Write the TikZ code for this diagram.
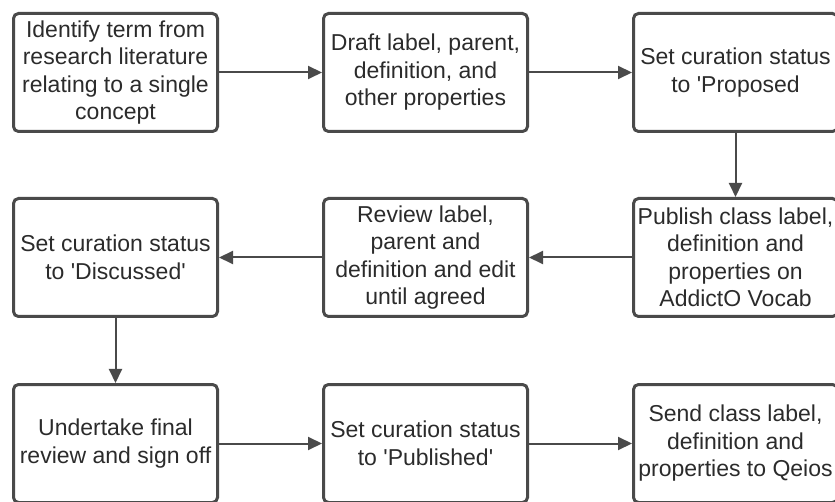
\documentclass[tikz,border=0pt]{standalone}
\usepackage{fontspec}
\newfontfamily\flowfont{Liberation Sans}
\usepackage{tikz}
\usetikzlibrary{positioning,arrows.meta}
\definecolor{flowgray}{HTML}{4A4A4A}
\definecolor{flowtext}{HTML}{2B2B2B}

\begin{document}
\begin{tikzpicture}[x=1pt, y=1pt,
                    flow block/.style={rectangle, draw=flowgray, line width=3pt, rounded corners=5pt, minimum width=204pt, minimum height=118pt, align=center, inner sep=0pt, text=flowtext, font=\flowfont\fontsize{23pt}{27.5pt}\selectfont},
                    flow arrow/.style={-{Triangle[length=14pt, width=13pt]}, line width=2pt, draw=flowgray}]

    \useasboundingbox (0,-502) rectangle (835,0);

    % first row, left to right
    \node [flow block] (s1) at (115.5,-72.5) {Identify term from\\research literature\\relating to a single\\concept};
    \node [flow block, right=103pt of s1] (s2) {Draft label, parent,\\definition, and\\other properties};
    \node [flow block, right=103pt of s2] (s3) {Set curation status\\to 'Proposed};

    % second row, right to left
    \node [flow block, below=64pt of s3] (s4) {Publish class label,\\definition and\\properties on\\AddictO Vocab};
    \node [flow block, left=103pt of s4] (s5) {Review label,\\parent and\\definition and edit\\until agreed};
    \node [flow block, left=103pt of s5] (s6) {Set curation status\\to 'Discussed'};

    % third row, left to right
    \node [flow block, below=65pt of s6] (s7) {Undertake final\\review and sign off};
    \node [flow block, right=103pt of s7] (s8) {Set curation status\\to 'Published'};
    \node [flow block, right=103pt of s8] (s9) {Send class label,\\definition and\\properties to Qeios};

    \draw [flow arrow] (s1.east) -- (s2.west);
    \draw [flow arrow] (s2.east) -- (s3.west);
    \draw [flow arrow] (s3.south) -- (s4.north);
    \draw [flow arrow] (s4.west) -- (s5.east);
    \draw [flow arrow] (s5.west) -- (s6.east);
    \draw [flow arrow] (s6.south) -- (s7.north);
    \draw [flow arrow] (s7.east) -- (s8.west);
    \draw [flow arrow] (s8.east) -- (s9.west);

\end{tikzpicture}
\end{document}
